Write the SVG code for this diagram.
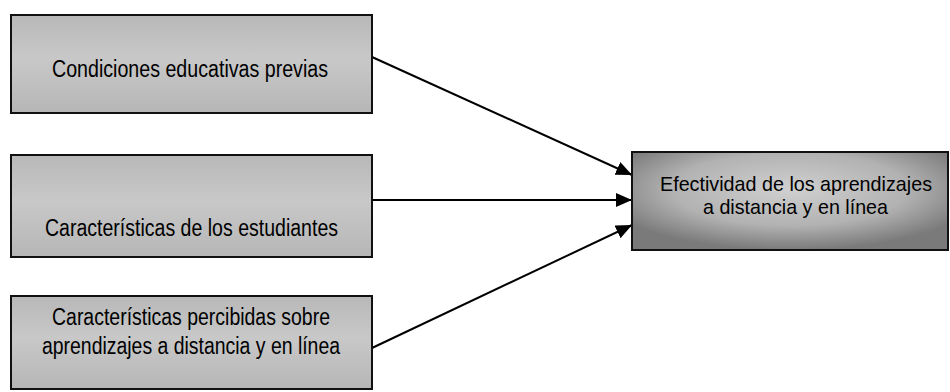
<svg xmlns="http://www.w3.org/2000/svg" width="950" height="392" viewBox="0 0 950 392">
<defs>
<linearGradient id="g1" x1="0" y1="0" x2="0" y2="1">
<stop offset="0" stop-color="#b8b8b8"/>
<stop offset="0.45" stop-color="#c8c8c8"/>
<stop offset="1" stop-color="#b6b6b6"/>
</linearGradient>
<radialGradient id="g2" cx="0.5" cy="0.38" r="0.62">
<stop offset="0" stop-color="#d0d0d0"/>
<stop offset="0.6" stop-color="#b2b2b2"/>
<stop offset="1" stop-color="#7a7a7a"/>
</radialGradient>
<marker id="ah" markerUnits="userSpaceOnUse" markerWidth="18" markerHeight="16" refX="16" refY="7" orient="auto">
<path d="M0,0 L16,7 L0,14 Z" fill="#000"/>
</marker>
<style>
.box{stroke:#111;stroke-width:2}
.src{fill:url(#g1)}
.dst{fill:url(#g2)}
.t{font-family:"Liberation Sans",Arial,sans-serif;font-size:23px;fill:#000;text-anchor:middle}
.t2{font-size:21px}
.c{stroke:#000;stroke-width:2;fill:none;marker-end:url(#ah)}
</style>
</defs>
<g id="connectors">
<line class="c" x1="372" y1="57" x2="632" y2="175"/>
<line class="c" x1="372" y1="200" x2="632" y2="200"/>
<line class="c" x1="372" y1="348" x2="632" y2="225"/>
</g>
<g id="n1">
<rect class="box src" x="11" y="15" width="361" height="98"/>
<text class="t" x="190" y="77" textLength="276" lengthAdjust="spacingAndGlyphs">Condiciones educativas previas</text>
</g>
<g id="n2">
<rect class="box src" x="11" y="155" width="361" height="102"/>
<text class="t" x="191.5" y="236" textLength="293" lengthAdjust="spacingAndGlyphs">Características de los estudiantes</text>
</g>
<g id="n3">
<rect class="box src" x="11" y="296" width="361" height="93"/>
<text class="t" x="191" y="325" textLength="278" lengthAdjust="spacingAndGlyphs">Características percibidas sobre</text>
<text class="t" x="191" y="354" textLength="298" lengthAdjust="spacingAndGlyphs">aprendizajes a distancia y en línea</text>
</g>
<g id="n4">
<rect class="box dst" x="632" y="152" width="316" height="98"/>
<text class="t t2" x="796" y="191" textLength="272" lengthAdjust="spacingAndGlyphs">Efectividad de los aprendizajes</text>
<text class="t t2" x="795.5" y="214" textLength="185" lengthAdjust="spacingAndGlyphs">a distancia y en línea</text>
</g>
</svg>
